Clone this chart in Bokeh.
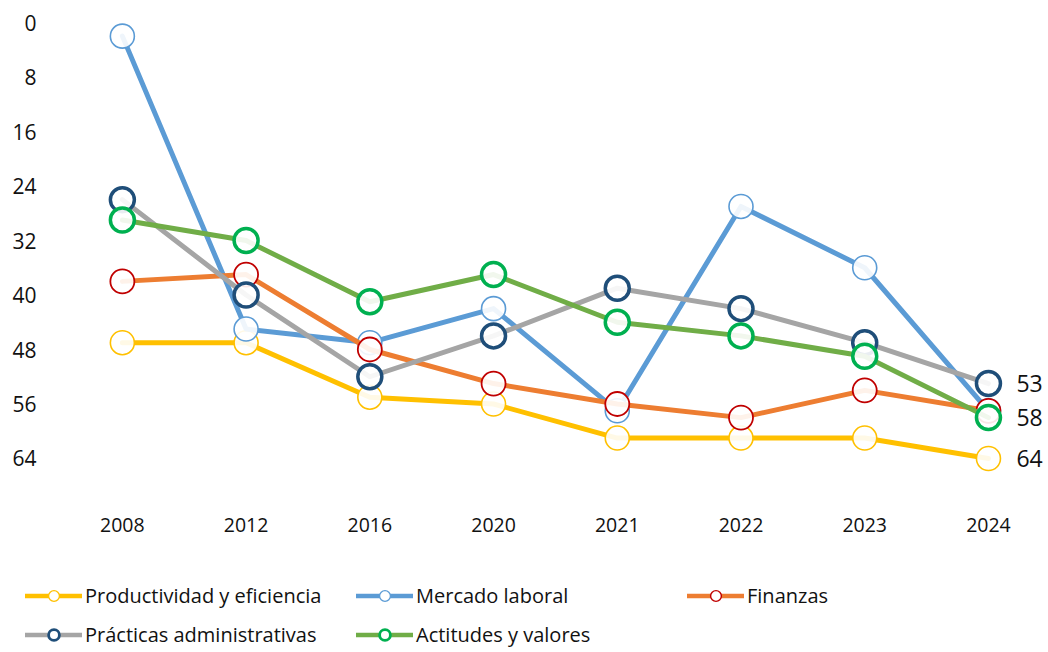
from bokeh.plotting import figure
from bokeh.layouts import column, row
from bokeh.models import Range1d, FixedTicker, Legend, LegendItem
from bokeh.embed import file_html
from bokeh.resources import INLINE
from bokeh.core.properties import value

years = ["2008", "2012", "2016", "2020", "2021", "2022", "2023", "2024"]
productividad = [47, 47, 55, 56, 61, 61, 61, 64]
mercado = [2, 45, 47, 42, 57, 27, 36, 57]
finanzas = [38, 37, 48, 53, 56, 58, 54, 57]
practicas = [26, 40, 52, 46, 39, 42, 47, 53]
actitudes = [29, 32, 41, 37, 44, 46, 49, 58]
y_ticks = [0, 8, 16, 24, 32, 40, 48, 56, 64]

FONT = "Open Sans"
xs = list(range(len(years)))

p = figure(width=1044, height=545, output_backend="svg", toolbar_location=None,
           x_range=Range1d(-0.5, 7.453), y_range=Range1d(70.9, -1.47),
           min_border_left=60, min_border_right=0, min_border_top=12,
           min_border_bottom=40)
p.outline_line_color = None
p.xgrid.visible = False
p.ygrid.visible = False

p.xaxis.ticker = FixedTicker(ticks=xs)
p.xaxis.major_label_overrides = {i: y for i, y in enumerate(years)}
p.yaxis.ticker = FixedTicker(ticks=y_ticks)
for ax in (p.xaxis, p.yaxis):
    ax.axis_line_color = None
    ax.major_tick_line_color = None
    ax.minor_tick_line_color = None
    ax.major_tick_in = 0
    ax.major_tick_out = 0
    ax.major_label_text_font = FONT
    ax.major_label_text_color = "#111111"
p.xaxis.major_label_text_font_size = "19.5px"
p.xaxis.major_label_standoff = 12
p.yaxis.major_label_text_font_size = "21px"
p.yaxis.major_label_standoff = 24

series = [
    ("Productividad y eficiencia", productividad, "#FFC000", "#FFC000", 1.6),
    ("Mercado laboral", mercado, "#5B9BD5", "#5B9BD5", 1.6),
    ("Finanzas", finanzas, "#ED7D31", "#C00000", 1.8),
    ("Prácticas administrativas", practicas, "#A5A5A5", "#1F4E79", 3.5),
    ("Actitudes y valores", actitudes, "#70AD47", "#00B050", 3.5),
]

# legend-only figure below the chart (its data sit outside its visible range)
pl = figure(width=1044, height=103, output_backend="svg", toolbar_location=None,
            x_range=Range1d(-0.5, 7.453), y_range=Range1d(200, 300),
            x_axis_location=None, y_axis_location=None,
            min_border_left=0, min_border_right=0, min_border_top=0, min_border_bottom=0)
pl.grid.visible = False
pl.outline_line_color = None

items = []
for name, vals, lc, mc, mlw in series:
    p.line(xs, vals, line_color=lc, line_width=5, line_join="round", line_cap="round")
    p.scatter(xs, vals, marker="circle", size=24, fill_color="white", fill_alpha=0.9,
              line_color=mc, line_width=mlw)
    kl = pl.line(xs, vals, line_color=lc, line_width=4.5, line_cap="round")
    ks = pl.scatter(xs, vals, marker="circle", fill_color="white",
                    line_color=mc, line_width=mlw * 0.8)
    items.append(LegendItem(label=name, renderers=[kl, ks]))

last = len(years) - 1
end_vals = [practicas[last], actitudes[last], productividad[last]]
p.text(x=[last] * 3, y=end_vals, text=[str(v) for v in end_vals], x_offset=28,
       text_baseline="middle", text_align="left", text_font_size="23px",
       text_font=value(FONT), text_color="#111111")

legend = Legend(items=items, ncols=3, orientation="horizontal", location=(25, 0),
                glyph_width=57, glyph_height=27, label_standoff=3, label_width=259,
                spacing=12, padding=0, margin=0, border_line_color=None,
                background_fill_alpha=0, label_text_font=FONT,
                label_text_font_size="20px", label_text_color="#111111")
pl.add_layout(legend)

open("out.html", "w").write(file_html(column(p, row(pl)), INLINE))
